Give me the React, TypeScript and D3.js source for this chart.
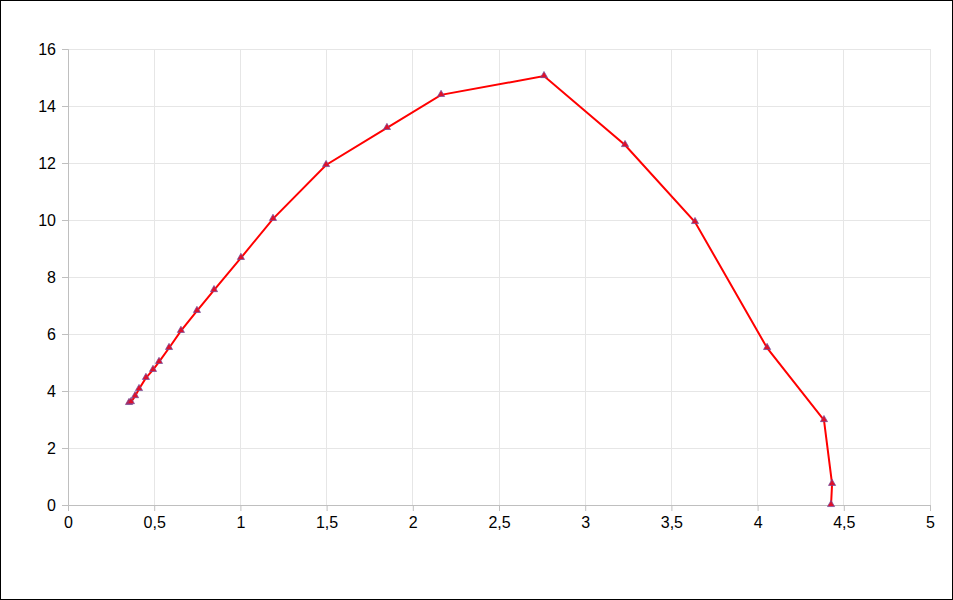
import * as d3 from 'd3';
import { useEffect, useRef } from 'react';

// trajectory points
const xValues = [
  0.354, 0.365, 0.389, 0.412, 0.452, 0.493, 0.528, 0.586, 0.655, 0.748, 0.847,
  1.003, 1.189, 1.497, 1.85, 2.164, 2.761, 3.231, 3.637, 4.055, 4.385, 4.432,
  4.426,
];
const yValues = [
  3.58, 3.61, 3.82, 4.07, 4.46, 4.74, 5.02, 5.51, 6.11, 6.81, 7.54, 8.67, 10.04,
  11.93, 13.23, 14.39, 15.05, 12.63, 9.93, 5.51, 2.98, 0.74, 0,
];
const xTicks = [0, 0.5, 1, 1.5, 2, 2.5, 3, 3.5, 4, 4.5, 5];
const yTicks = [0, 2, 4, 6, 8, 10, 12, 14, 16];

const W = 953;
const H = 600;
const margin = { top: 49, right: 23, bottom: 95, left: 68 };

const fmt = (v: number) => String(v).replace('.', ',');

export default function App() {
  const svgRef = useRef<SVGSVGElement>(null);

  useEffect(() => {
    if (!svgRef.current) return;
    const svg = d3.select(svgRef.current);
    svg.selectAll('*').remove();

    const x = d3
      .scaleLinear()
      .domain([0, 5])
      .range([margin.left, W - margin.right]);
    const y = d3
      .scaleLinear()
      .domain([0, 16])
      .range([H - margin.bottom, margin.top]);

    svg
      .append('rect')
      .attr('x', 0.5)
      .attr('y', 0.5)
      .attr('width', W - 1)
      .attr('height', H - 1)
      .attr('fill', '#fff')
      .attr('stroke', '#000');

    // grid
    const g = svg.append('g').attr('shape-rendering', 'crispEdges');
    g.selectAll('.hg')
      .data(yTicks.filter((t) => t > 0))
      .join('line')
      .attr('x1', x(0))
      .attr('x2', x(5))
      .attr('y1', (d) => y(d))
      .attr('y2', (d) => y(d))
      .attr('stroke', '#e6e6e6');
    g.selectAll('.vg')
      .data(xTicks.filter((t) => t > 0))
      .join('line')
      .attr('x1', (d) => x(d))
      .attr('x2', (d) => x(d))
      .attr('y1', y(0))
      .attr('y2', y(16))
      .attr('stroke', '#e6e6e6');

    // axes
    const yAxis = svg
      .append('g')
      .attr('transform', `translate(${x(0)},0)`)
      .call(
        d3
          .axisLeft(y)
          .tickValues(yTicks)
          .tickSize(6)
          .tickPadding(6)
          .tickFormat((d) => fmt(d as number))
      );
    const xAxis = svg
      .append('g')
      .attr('transform', `translate(0,${y(0)})`)
      .call(
        d3
          .axisBottom(x)
          .tickValues(xTicks)
          .tickSize(6)
          .tickPadding(6)
          .tickFormat((d) => fmt(d as number))
      );
    [yAxis, xAxis].forEach((a) => {
      a.attr('font-size', 16).attr('font-family', '"Liberation Sans", Arial, sans-serif');
      a.select('.domain').attr('stroke', '#bfbfbf');
      a.selectAll('.tick line').attr('stroke', '#bfbfbf');
      a.selectAll('text').attr('fill', '#000');
    });

    const pts = xValues.map((v, i) => [v, yValues[i]] as [number, number]);

    const line = d3
      .line<[number, number]>()
      .x((d) => x(d[0]))
      .y((d) => y(d[1]));

    svg
      .append('path')
      .datum(pts)
      .attr('d', line)
      .attr('fill', 'none')
      .attr('stroke', '#ff0000')
      .attr('stroke-width', 2);

    const tri = d3.symbol().type(d3.symbolTriangle).size(22);
    svg
      .append('g')
      .selectAll('path')
      .data(pts)
      .join('path')
      .attr('d', tri)
      .attr('transform', (d) => `translate(${x(d[0])},${y(d[1]) - 0.5})`)
      .attr('fill', '#e0102a')
      .attr('stroke', '#6b4ea0')
      .attr('stroke-width', 0.7);
  }, []);

  return (
    <svg
      ref={svgRef}
      width={W}
      height={H}
      style={{ position: 'absolute', left: 0, top: 0, display: 'block' }}
    />
  );
}
